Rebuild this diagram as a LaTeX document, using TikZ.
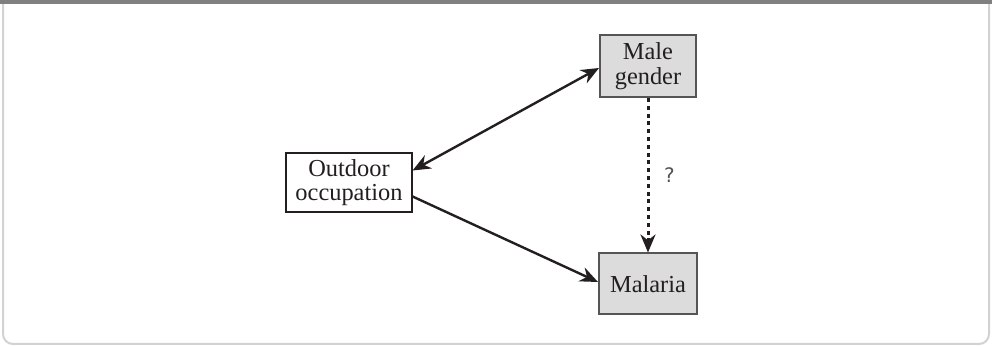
\documentclass[tikz,border=0pt]{standalone}
\usepackage{fontspec}
\setmainfont{Liberation Serif}
\setsansfont{DejaVu Sans}
\usetikzlibrary{arrows.meta}

\definecolor{barGray}{HTML}{808080}
\definecolor{frameGray}{HTML}{D2D2D2}
\definecolor{boxGray}{HTML}{DCDCDC}
\definecolor{edgeGray}{HTML}{555555}
\definecolor{inkBlack}{HTML}{231F20}

\tikzset{
  factor/.style={rectangle, draw=edgeGray, line width=1pt, fill=boxGray, align=center,
    inner sep=0pt, font=\fontsize{12.2}{12.5}\selectfont, text=inkBlack},
  exposure/.style={rectangle, draw=inkBlack, line width=0.6pt, fill=white, align=center,
    inner sep=0pt, font=\fontsize{12.2}{11.7}\selectfont, text=inkBlack},
  link/.style={draw=inkBlack, line width=1.2pt, -{Stealth[length=9pt,width=7.5pt]}},
}

\begin{document}
\begin{tikzpicture}[x=0.5pt, y=-0.5pt, node distance=109pt]
  \useasboundingbox (0,0) rectangle (992,346);

  % panel frame
  \draw[frameGray, line width=1pt, rounded corners=5pt] (3,4) -- (3,344) -- (989,344) -- (989,4);
  \fill[barGray] (0,0) rectangle (992,4.5);

  \node(male)[factor, minimum width=48pt, minimum height=31pt] at (648,66) {Male\\gender};
  \node(malaria)[factor, minimum width=49pt, minimum height=30.5pt, below of=male] {Malaria};
  \node(outdoor)[exposure, minimum width=63pt, minimum height=29.5pt] at (349,182.5) {Outdoor\\occupation};

  \draw[link, {Stealth[length=9pt,width=7.5pt]}-{Stealth[length=9pt,width=7.5pt]}]
    ([yshift=-1pt]male.west) -- ([yshift=6pt]outdoor.east);
  \draw[link] ([yshift=-7pt]outdoor.east) -- ([yshift=1pt]malaria.west);
  \draw[link, line width=1.5pt, dash pattern=on 2pt off 1.9pt]
    (male.south) --node[right=4pt, font=\sffamily\fontsize{10}{12}\selectfont, text=edgeGray]{?} (malaria.north);
\end{tikzpicture}
\end{document}
